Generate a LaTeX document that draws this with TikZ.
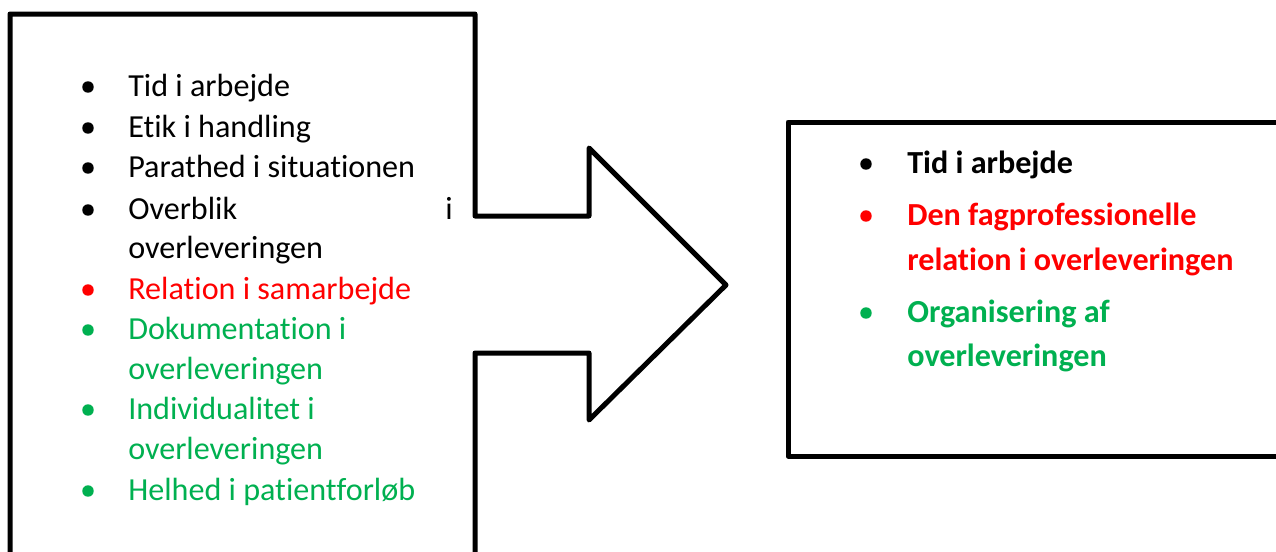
\documentclass[tikz,border=0pt]{standalone}
\usepackage{fontspec}
\setmainfont{Carlito}[Ligatures=NoCommon]
\definecolor{itemred}{HTML}{FF0000}
\definecolor{itemgreen}{HTML}{00B050}
\begin{document}
\begin{tikzpicture}[x=0.75pt,y=-0.75pt,
  frame/.style={draw=black,line width=3.75pt,line join=round},
  txt/.style={anchor=base west,inner sep=0pt,font=\fontsize{24.1}{29}\selectfont},
  btxt/.style={txt,font=\fontsize{24.1}{29}\selectfont\bfseries},
  dot/.style={circle,fill,inner sep=0pt,minimum size=8.6pt}]
\useasboundingbox (0,0) rectangle (1276,551);
\clip (0,0) rectangle (1276,551);
% block arrow: left panel whose right edge bulges into an arrow
\draw[frame] (10,570) -- (10,14) -- (475,14) -- (475,216) -- (589,216)
  -- (589,148) -- (726,285) -- (589,420) -- (589,353) -- (475,353) -- (475,570);
% result panel
\draw[frame] (788,122) rectangle (1300,456);

% left list
\node[dot] (b1) at (88,87) {};
\node[txt] (l1) at (128,96) {Tid i arbejde};
\node[dot] (b2) at (88,128) {};
\node[txt] (l2) at (128,137) {Etik i handling};
\node[dot] (b3) at (88,168) {};
\node[txt] (l3) at (128,177) {Parathed i situationen};
\node[dot] (b4) at (88,210) {};
\node[txt] (l4) at (128,219) {Overblik};
\node[txt] (l4b) at (445,219) {i};
\node[txt] (l5) at (128,258) {overleveringen};
\node[dot,itemred] (b6) at (88,290) {};
\node[txt,text=itemred] (l6) at (128,299) {Relation i samarbejde};
\node[dot,itemgreen] (b7) at (88,330) {};
\node[txt,text=itemgreen] (l7) at (128,339) {Dokumentation i};
\node[txt,text=itemgreen] (l8) at (128,379) {overleveringen};
\node[dot,itemgreen] (b9) at (88,410) {};
\node[txt,text=itemgreen] (l9) at (128,419) {Individualitet i};
\node[txt,text=itemgreen] (l10) at (128,459) {overleveringen};
\node[dot,itemgreen] (b11) at (88,491) {};
\node[txt,text=itemgreen] (l11) at (128,500) {Helhed i patientforløb};

% right list
\node[dot] (r1) at (866,164) {};
\node[btxt] (rt1) at (907,173) {Tid i arbejde};
\node[dot,itemred] (r2) at (866,216) {};
\node[btxt,text=itemred] (rt2) at (907,225) {Den fagprofessionelle};
\node[btxt,text=itemred] (rt3) at (907,270) {relation i overleveringen};
\node[dot,itemgreen] (r4) at (866,313) {};
\node[btxt,text=itemgreen] (rt4) at (907,322) {Organisering af};
\node[btxt,text=itemgreen] (rt5) at (907,366) {overleveringen};
\end{tikzpicture}
\end{document}
